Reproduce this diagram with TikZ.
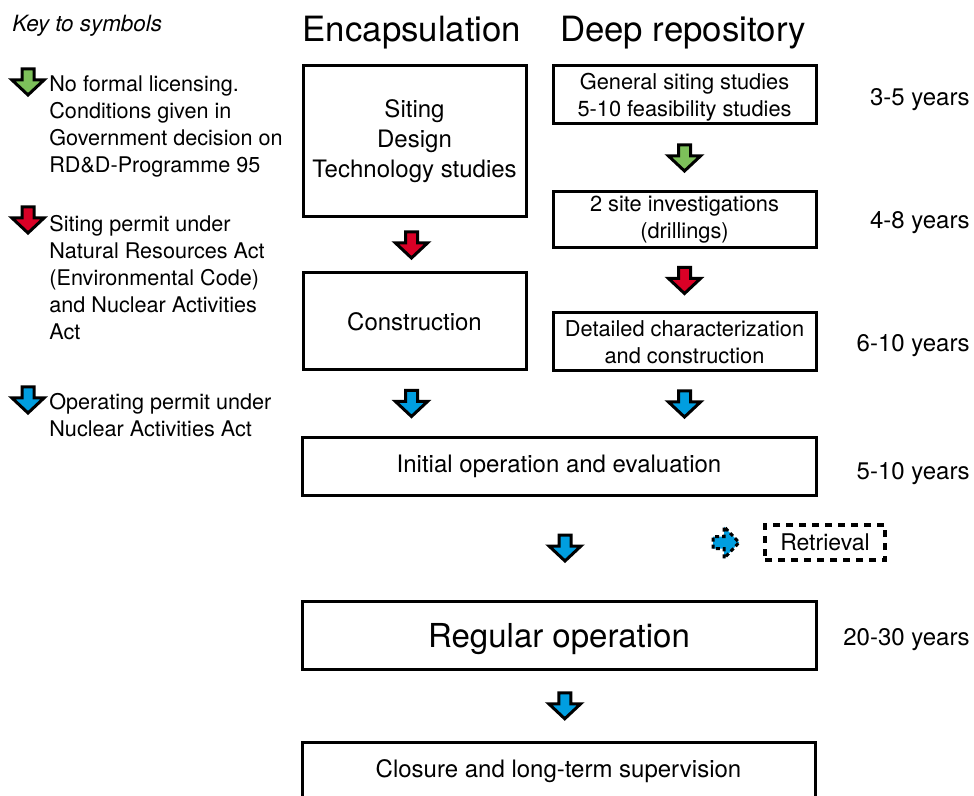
\documentclass[tikz,border=0pt]{standalone}
\usepackage{fontspec}
\setmainfont{TeX Gyre Heros}
\usetikzlibrary{calc}

\definecolor{permgreen}{RGB}{125,192,90}
\definecolor{permred}{RGB}{218,0,38}
\definecolor{permblue}{RGB}{0,158,224}

\begin{document}
\begin{tikzpicture}[x=0.5pt,y=-0.5pt,
    box/.style={draw,line width=1.5pt,inner sep=0pt,align=center,font=\fontsize{12}{15}\selectfont},
    drbox/.style={box,minimum width=131.5pt,minimum height=29pt,font=\fontsize{10.9}{13.5}\selectfont},
    wide/.style={box,minimum width=257pt,minimum height=29pt},
    years/.style={anchor=east,inner sep=0pt,font=\fontsize{12}{15}\selectfont},
    title/.style={inner sep=0pt,font=\fontsize{17.4}{20}\selectfont},
    keytext/.style={anchor=north west,inner sep=0pt,align=left,font=\fontsize{10.8}{13.5}\selectfont},
    downarrow/.pic={\draw[pic actions,line width=1.5pt,line join=miter]
        (-6,-13) -- (6,-13) -- (6,-2) -- (16,-2) -- (0,13) -- (-16,-2) -- (-6,-2) -- cycle;}]

    % Page size and background
    \path[use as bounding box,fill=white] (0,0) rectangle (974,796);

    % Key to symbols
    \node[inner sep=0pt,anchor=west,font=\fontsize{11.2}{14}\selectfont\itshape] (key) at (12,26) {Key to symbols};
    \pic[fill=permgreen] at (28,82) {downarrow};
    \node[keytext] (keygreen) at (49,75) {No formal licensing.\\Conditions given in\\Government decision on\\RD\&D-Programme 95};
    \pic[fill=permred] at (28,220) {downarrow};
    \node[keytext] (keyred) at (49,215) {Siting permit under\\Natural Resources Act\\(Environmental Code)\\and Nuclear Activities\\Act};
    \pic[fill=permblue] at (28,400) {downarrow};
    \node[keytext] (keyblue) at (49,393) {Operating permit under\\Nuclear Activities Act};

    % Column titles
    \node[title] (enctitle) at (412,33) {Encapsulation};
    \node[title] (drtitle) at (683,33) {Deep repository};

    % Encapsulation column
    \node[box,minimum width=111.5pt,minimum height=75.5pt] (enc) at (414.5,141.5) {Siting\\Design\\Technology studies};
    \node[box,minimum width=111.5pt,minimum height=48.5pt] (constr) at (414.5,321.5) {Construction};

    % Deep repository column
    \node[drbox,text depth=0pt] (dr1) at (684.5,95) {General siting studies\\5-10 feasibility studies};
    \node[drbox,minimum height=28pt] (dr2) at (684.5,220) {2 site investigations\\(drillings)};
    \node[drbox] (dr3) at (684.5,342) {Detailed characterization\\and construction};

    % Joint stages
    \node[wide] (init) at (559,466) {Initial operation and evaluation};
    \node[wide,minimum height=34pt,text depth=0pt,font=\fontsize{16.5}{19}\selectfont] (regop) at (559,635) {Regular operation};
    \node[wide,minimum width=256.5pt,anchor=north] (closure) at (558.5,741) {Closure and long-term supervision};
    \node[box,line width=2pt,dash pattern=on 3.5pt off 3pt,minimum width=60pt,minimum height=17.5pt,text depth=0pt,font=\fontsize{11.5}{14}\selectfont] (retr) at (825,542.5) {Retrieval};

    % Permit arrows between the stages
    \pic[fill=permgreen] at ($(dr1.south)!0.5!(dr2.north)$) {downarrow};
    \pic[fill=permred] at ($(enc.south)!0.5!(constr.north)+(-3,0)$) {downarrow};
    \pic[fill=permred] at ($(dr2.south)!0.5!(dr3.north)$) {downarrow};
    \pic[fill=permblue] at ($(constr.south)!0.5!(init.north -| constr.south)+(-3,0)$) {downarrow};
    \pic[fill=permblue] at ($(dr3.south)!0.5!(init.north -| dr3.south)$) {downarrow};
    \pic[fill=permblue] at ($(init.south)!0.5!(regop.north)+(6,0)$) {downarrow};
    \pic[fill=permblue] at ($(regop.south)!0.5!(closure.north)+(6,0)$) {downarrow};
    \pic[fill=permblue,dash pattern=on 2pt off 1.5pt,rotate=90] at ($(retr.west)+(-37,0)$) {downarrow};

    % Durations
    \node[years] (y1) at (970,100) {3-5 years};
    \node[years] (y2) at (970,223) {4-8 years};
    \node[years] (y3) at (970,346) {6-10 years};
    \node[years] (y4) at (970,474) {5-10 years};
    \node[years] (y5) at (970,640) {20-30 years};

\end{tikzpicture}
\end{document}
